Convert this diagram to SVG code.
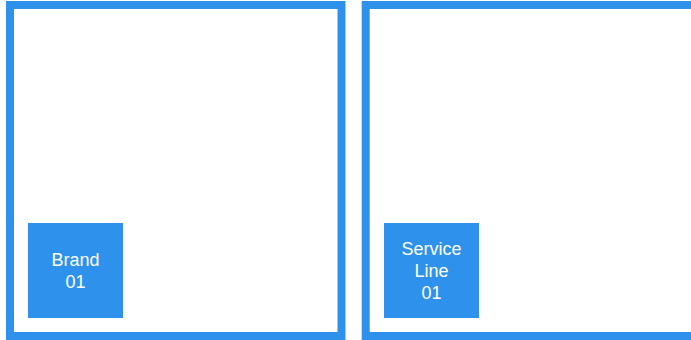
<svg xmlns="http://www.w3.org/2000/svg" width="691" height="340" viewBox="0 0 691 340">
<style>
.frame{fill:none;stroke:#2e92ec;stroke-width:8}
.box{fill:#2e92ec}
.lbl{fill:#ffffff;font-family:"Liberation Sans",Arial,sans-serif;font-size:18px;text-anchor:middle}
</style>
<rect width="691" height="340" fill="#ffffff"/>
<g id="frame-brand"><rect class="frame" x="10" y="5" width="331.5" height="331"/></g>
<g id="frame-service"><rect class="frame" x="365.7" y="5" width="340" height="331"/></g>
<g id="brand-01"><rect class="box" x="28" y="223" width="95" height="95"/>
<text class="lbl" x="75.5" y="266">Brand</text>
<text class="lbl" x="75.5" y="288">01</text></g>
<g id="service-line-01"><rect class="box" x="384" y="223" width="95" height="95"/>
<text class="lbl" x="431.5" y="255">Service</text>
<text class="lbl" x="431.5" y="277">Line</text>
<text class="lbl" x="431.5" y="299">01</text></g>
<g id="connectors"></g>
</svg>
